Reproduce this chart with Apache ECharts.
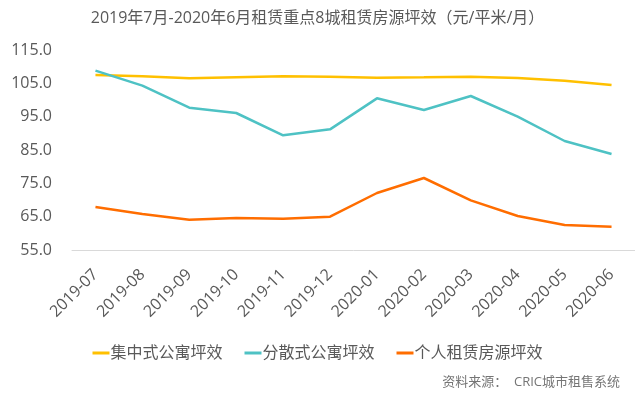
<!DOCTYPE html>
<html><head><meta charset="utf-8">
<script src="https://cdn.jsdelivr.net/npm/echarts@6/dist/echarts.min.js"></script>
<style>html,body{margin:0;padding:0;background:#fff}#c{width:635px;height:398px}</style>
</head><body><div id="c"></div>
<script>
const categories = ['2019-07','2019-08','2019-09','2019-10','2019-11','2019-12','2020-01','2020-02','2020-03','2020-04','2020-05','2020-06'];
const centralized = [107.5,107.1,106.5,106.8,107.1,107.0,106.7,106.8,107.0,106.6,105.8,104.5];
const scattered = [108.8,104.3,97.7,96.1,89.4,91.2,100.5,97.0,101.2,95.0,87.7,83.8];
const individual = [67.9,65.8,64.1,64.6,64.4,65.0,72.1,76.6,69.9,65.2,62.5,62.0];
const seriesNames = ['集中式公寓坪效','分散式公寓坪效','个人租赁房源坪效'];
const yTicks = {min:55, max:115, interval:10};

const font = '"Open Sans","Noto Sans CJK SC",sans-serif';
const chart = echarts.init(document.getElementById('c'), null, {renderer:'canvas'});
const colors = ['#FFC000','#4EC2C4','#FF6D00'];
chart.setOption({
  animation:false,
  color: colors,
  title:{text:'2019年7月-2020年6月租赁重点8城租赁房源坪效（元/平米/月）', left:'center', top:5,
    textStyle:{fontFamily:font, fontSize:16, fontWeight:'normal', color:'#595959'}},
  grid:{left:72, right:0, top:50, bottom:148},
  legend:{data:seriesNames, bottom:32, left:'center', icon:'rect', itemWidth:17, itemHeight:3, itemGap:22,
    textStyle:{fontFamily:font, fontSize:16, color:'#595959', padding:[0,0,0,-4]}},
  graphic:[{type:'text', right:15, top:376, style:{text:'资料来源：  CRIC城市租售系统', font:'13px '+font, fill:'#757575'}}],
  xAxis:{type:'category', data:categories, boundaryGap:true,
    axisLine:{lineStyle:{color:'#d9d9d9'}}, axisTick:{show:false},
    axisLabel:{rotate:45, interval:0, margin:22, fontFamily:font, fontSize:16, color:'#595959'}},
  yAxis:{type:'value', min:yTicks.min, max:yTicks.max, interval:yTicks.interval,
    axisLine:{show:false}, axisTick:{show:false}, splitLine:{show:false},
    axisLabel:{margin:20, fontFamily:font, fontSize:16, color:'#595959', formatter:v=>v.toFixed(1)}},
  series:[
    {name:seriesNames[0], type:'line', data:centralized, showSymbol:false, lineStyle:{width:2.5}},
    {name:seriesNames[1], type:'line', data:scattered, showSymbol:false, lineStyle:{width:2.5}},
    {name:seriesNames[2], type:'line', data:individual, showSymbol:false, lineStyle:{width:2.5}}
  ]
});
</script></body></html>
